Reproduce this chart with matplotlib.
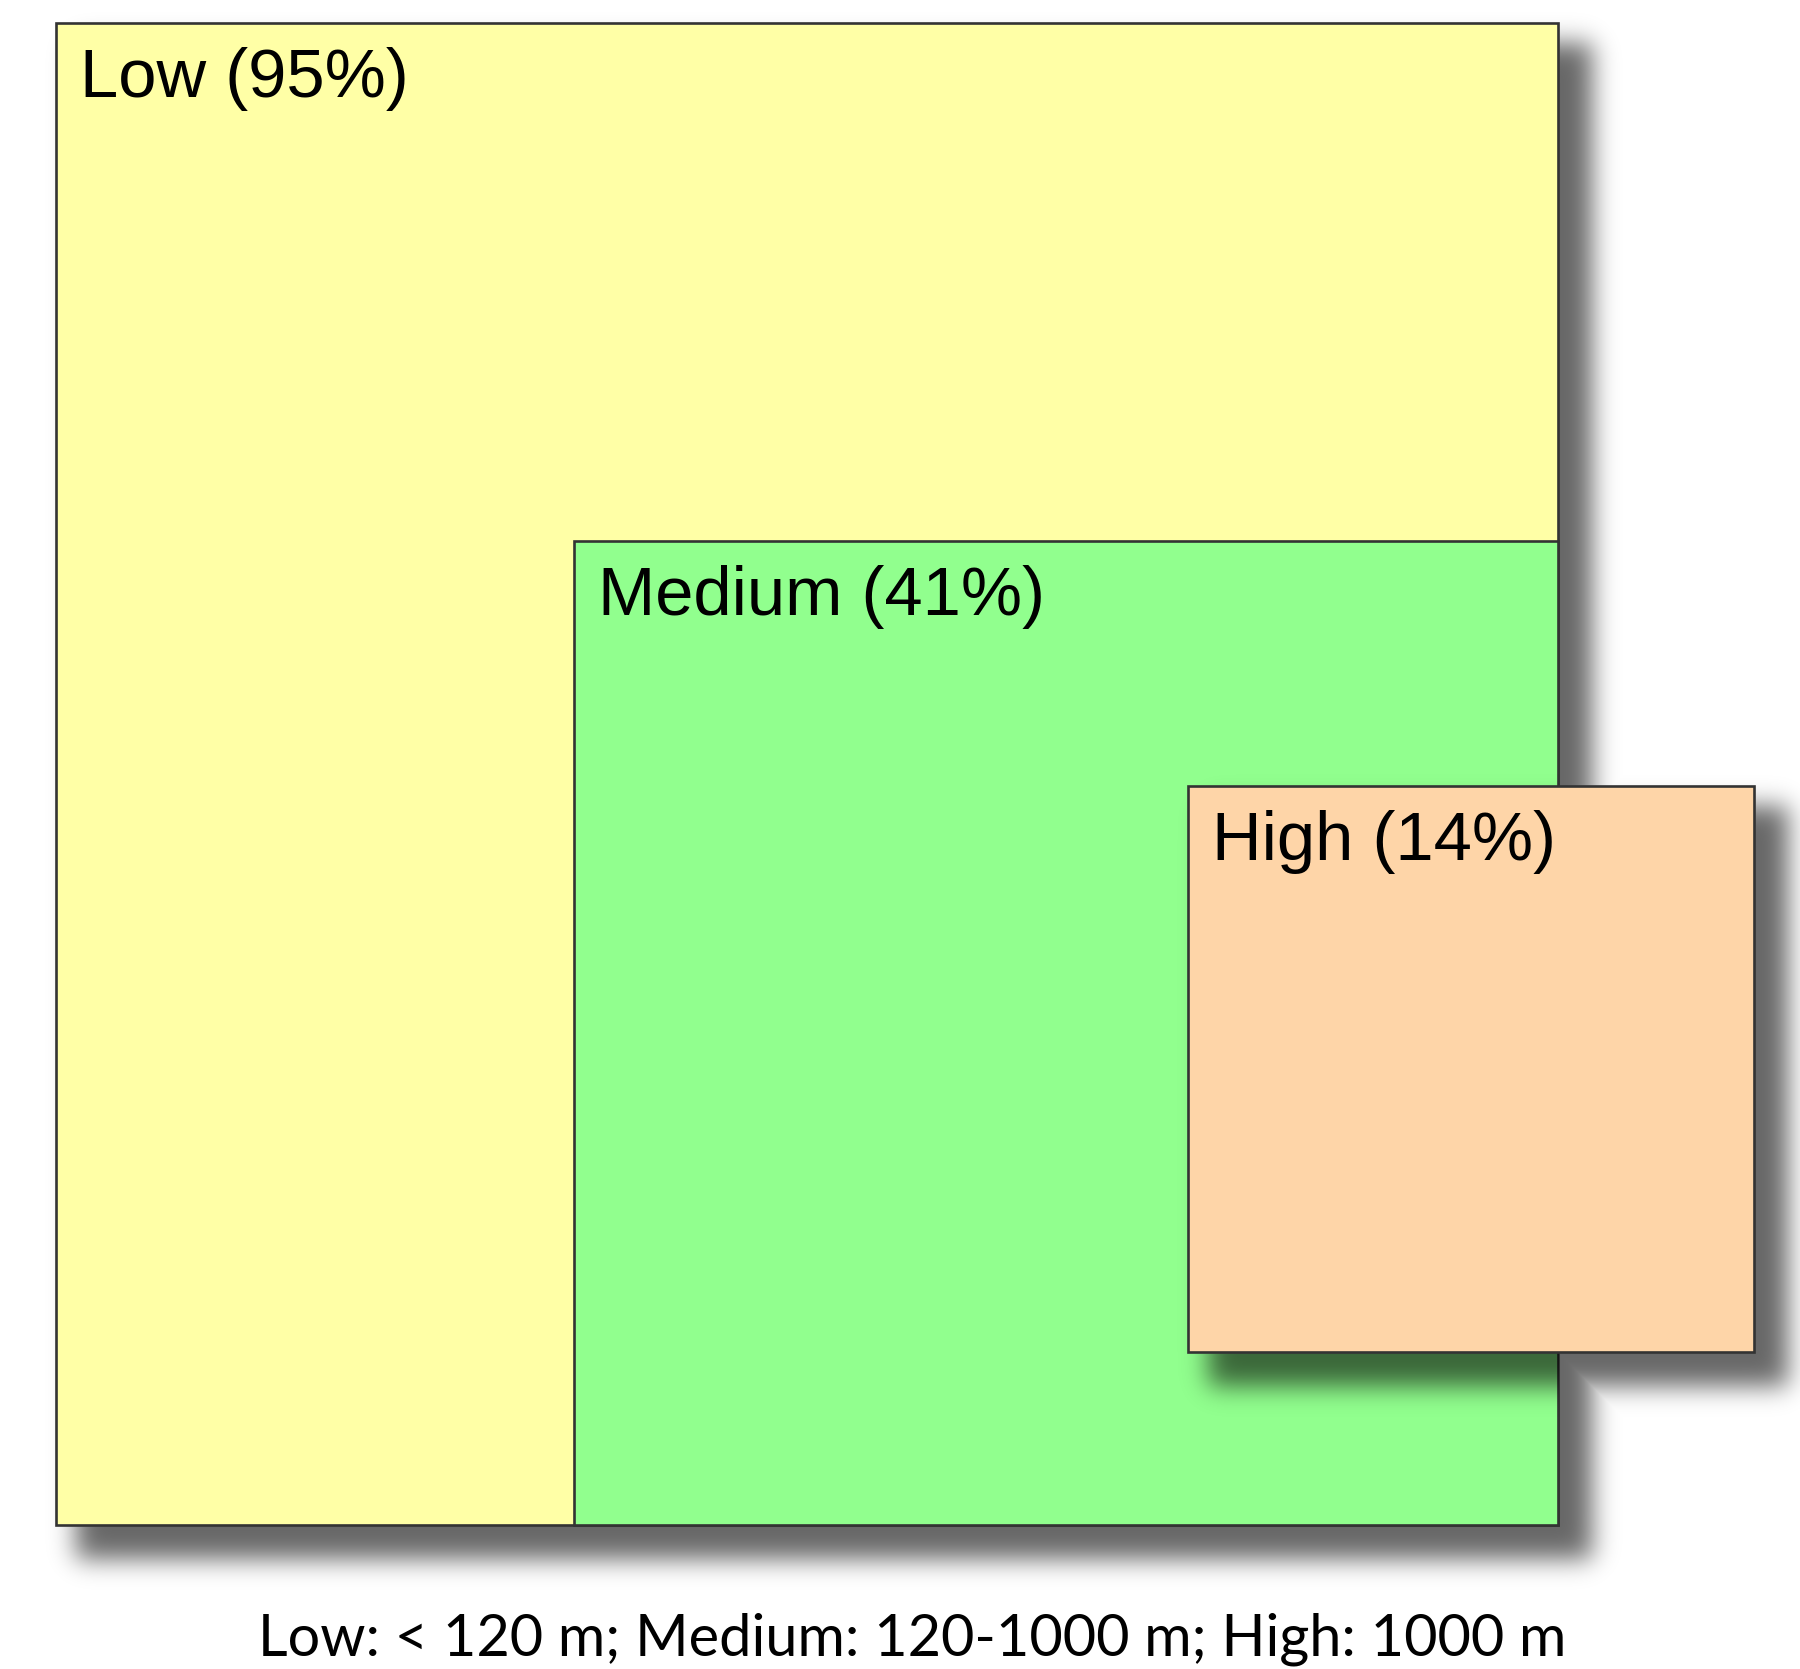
import math
import numpy as np
import matplotlib
matplotlib.use("Agg")
import matplotlib.pyplot as plt
from matplotlib.patches import Rectangle

# ---- data ----
categories = ["Low", "Medium", "High"]
percent = [95, 41, 14]                 # labels
square_area = [95, 40.8, 13.5]         # area of squares
fill_colors = ["#FFFFA6", "#91FF8E", "#FED5A8"]
caption = "Low: < 120 m; Medium: 120-1000 m; High: 1000 m"

W, H = 1800, 1669
fig = plt.figure(figsize=(W / 100, H / 100), dpi=100)
ax = fig.add_axes([0, 0, 1, 1])
ax.set_xlim(0, W)
ax.set_ylim(H, 0)
ax.axis("off")

# layout: square area proportional to share
unit = 1502 / math.sqrt(square_area[0])
sides = [unit * math.sqrt(a) for a in square_area]
low_x, low_y = 56, 23
low_r, low_b = low_x + sides[0], low_y + sides[0]
positions = [
    (low_x, low_y),
    (low_r - sides[1], low_b - sides[1]),           # medium anchored bottom-right in low
    (low_r + 196 - sides[2], 786),                   # high sticks out to the right
]

xs = np.arange(W) + 0.5
ys = np.arange(H) + 0.5
erf = np.frompyfunc(math.erf, 1, 1)


def Phi(v):
    return 0.5 * (1 + erf(v / math.sqrt(2)).astype(float))


def shadow_alpha(x0, y0, s, off=27, spread=7, sigma=12.5):
    x0s, x1s = x0 - spread + off, x0 + s + spread + off
    y0s, y1s = y0 - spread + off, y0 + s + spread + off
    fx = Phi((xs - x0s) / sigma) - Phi((xs - x1s) / sigma)
    fy = Phi((ys - y0s) / sigma) - Phi((ys - y1s) / sigma)
    return np.outer(fy, fx)


def rgba(a, alpha=0.6):
    img = np.zeros((H, W, 4))
    img[..., 3] = a * alpha
    return img


shadows = [shadow_alpha(positions[i][0], positions[i][1], sides[i]) for i in range(3)]

# combined shadow on the white background
ax.imshow(rgba(np.maximum.reduce(shadows)), extent=(0, W, H, 0), zorder=1,
          interpolation="bilinear")

patches = []
for i, (cat, p, col) in enumerate(zip(categories, percent, fill_colors)):
    x0, y0 = positions[i]
    s = sides[i]
    z = 3 + 3 * i
    if i == 2:
        # high square's shadow falling onto the medium square
        im = ax.imshow(rgba(shadows[2]), extent=(0, W, H, 0), zorder=z - 1,
                       interpolation="bilinear")
        im.set_clip_path(patches[1])
    rect = Rectangle((x0, y0), s, s, facecolor=col, edgecolor="#333333",
                     linewidth=1.9, zorder=z)
    ax.add_patch(rect)
    patches.append(rect)
    ax.text(x0 + 24, y0 + 74, f"{cat} ({p}%)", fontsize=49.5, family="Liberation Sans",
            color="black", ha="left", va="baseline", zorder=z + 1)

ax.set_xlim(0, W)
ax.set_ylim(H, 0)

t = ax.text(912, 1655, caption, fontsize=44, family="Lato", color="black",
            ha="center", va="baseline")
fig.canvas.draw()
bb = t.get_window_extent()
target = 1309
t.set_fontsize(44 * target / bb.width)

fig.savefig("out.png", dpi=100)
